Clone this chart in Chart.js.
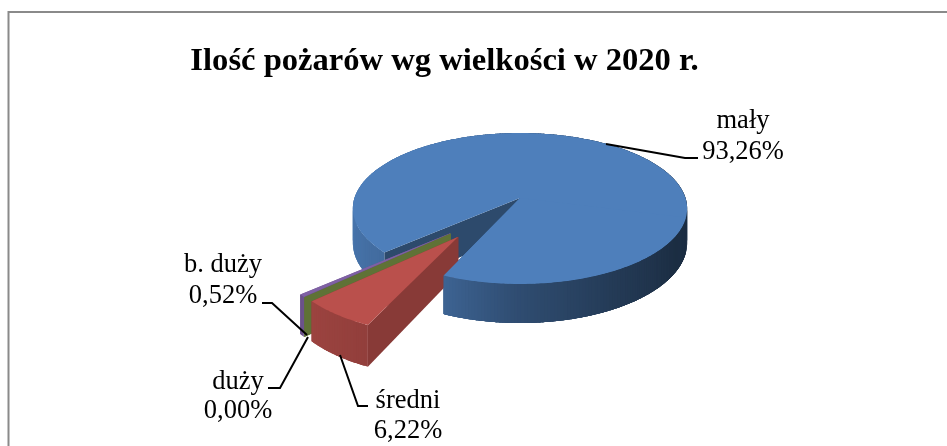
<!DOCTYPE html>
<html><head><meta charset="utf-8">
<style>html,body{margin:0;padding:0;background:#fff}canvas{display:block}</style>
<script src="https://cdn.jsdelivr.net/npm/chart.js@4"></script>
</head><body><canvas id="c" width="947" height="446"></canvas>
<script>
const categories = ['mały', 'średni', 'duży', 'b. duży'];
const values = [93.26, 6.22, 0.00, 0.52];
const chartTitle = 'Ilość pożarów wg wielkości w 2020 r.';

const topColors = ['#4E7FBB', '#BA504C', '#9BBB59', '#7F61A4'];
const cutShades = [0.58, 0.73, 0.61, 0.9];
const rimScale = [1, 0.98, 0.98, 0.98];
const rimStops = [[0,.36],[30,.36],[60,.46],[90,.6],[113,.78],[136,.84],[160,.9],[180,.92],[200,.95],[360,.36]];
const explode = 0.3;
const cam = {x:520, y:198, rx:165.5, ry:74, h:33.6, k:0.139};

const labelSpots = [
  {x:743, y1:128, y2:159, line:[[606,144],[685,158],[698,158]]},
  {x:408, y1:408, y2:438, line:[[340,355],[358,406],[368,406]]},
  {x:238, y1:389, y2:418, line:[[308,337],[280,388],[268,388]]},
  {x:223, y1:272, y2:303, line:[[307,335],[272,303],[262,303]]}
];

function project(wx, wy, z){
  const s = 1/(1-cam.k*wy);
  return [cam.x + cam.rx*wx*s, cam.y + (cam.ry*wy + cam.h*z)*s];
}
function shadeAt(deg){
  deg = ((deg%360)+360)%360;
  for(let i=1;i<rimStops.length;i++){
    const [a,sa]=rimStops[i-1],[b,sb]=rimStops[i];
    if(deg<=b) return sa+(sb-sa)*(deg-a)/(b-a);
  }
  return 1;
}
function tone(hex, f){
  const n=parseInt(hex.slice(1),16);
  return `rgb(${Math.round((n>>16&255)*f)},${Math.round((n>>8&255)*f)},${Math.round((n&255)*f)})`;
}
function poly(ctx, pts, color){
  ctx.beginPath();
  pts.forEach((p,i)=> i?ctx.lineTo(p[0],p[1]):ctx.moveTo(p[0],p[1]));
  ctx.closePath();
  ctx.fillStyle=color; ctx.fill();
}
function offsetOf(el){
  const mid=(el.startAngle+el.endAngle)/2;
  return [explode*Math.cos(mid), explode*Math.sin(mid)];
}
function paintSlice(ctx, el, i, origin, fromA, cuts){
  const a = fromA===undefined ? el.startAngle : fromA, b = el.endAngle;
  const o = offsetOf(el), cx=o[0]-origin[0], cy=o[1]-origin[1], r=rimScale[i];
  const P=(t,z)=>project(cx+r*Math.cos(t),cy+r*Math.sin(t),z);
  const C=z=>project(cx,cy,z);
  const base=el.options.backgroundColor;
  if(cuts){
    poly(ctx,[C(0),P(b,0),P(b,1),C(1)],tone(base,cutShades[i]));
    poly(ctx,[C(0),P(a,0),P(a,1),C(1)],tone(base,cutShades[i]));
  }
  const step=Math.PI/180;
  for(let t=a;t<b;t+=step){
    const e=Math.min(t+step*2.5,b), col=tone(base,shadeAt((t+step/2)*180/Math.PI));
    const pts=[];
    for(let q=t;q<e;q+=step/2) pts.push(P(q,0));
    pts.push(P(e,0),P(e,1));
    for(let q=e-step/2;q>t;q-=step/2) pts.push(P(q,1));
    pts.push(P(t,1));
    poly(ctx,pts,col);
  }
  const top=[C(0)];
  for(let t=a;t<b;t+=step) top.push(P(t,0));
  top.push(P(b,0));
  poly(ctx,top,base);
}

const pie3d = {
  id:'pie3d',
  beforeDraw(chart){
    const ctx=chart.ctx;
    ctx.save();
    ctx.strokeStyle='#8a8a8a'; ctx.lineWidth=2;
    ctx.beginPath(); ctx.moveTo(8.5,446); ctx.lineTo(8.5,12); ctx.lineTo(947,12); ctx.stroke();
    ctx.restore();
  },
  beforeDatasetDraw(chart, args){
    const ctx=chart.ctx, arcs=chart.getDatasetMeta(args.index).data;
    const origin=offsetOf(arcs[0]);
    ctx.save();
    paintSlice(ctx,arcs[0],0,origin,undefined,true);
    [3,2,1].forEach(i=>paintSlice(ctx,arcs[i],i,origin,undefined,true));
    // the near part of the large slice stands in front of the pulled-out wedge
    paintSlice(ctx,arcs[0],0,origin,arcs[0].endAngle-Math.PI*0.55,false);
    ctx.restore();
    return false;
  },
  afterDatasetsDraw(chart){
    const ctx=chart.ctx;
    ctx.save();
    ctx.strokeStyle='#000'; ctx.lineWidth=2; ctx.lineJoin='miter';
    labelSpots.forEach(s=>{
      ctx.beginPath();
      s.line.forEach((p,i)=> i?ctx.lineTo(p[0],p[1]):ctx.moveTo(p[0],p[1]));
      ctx.stroke();
    });
    ctx.fillStyle='#000'; ctx.font='26.5px "Liberation Serif"';
    ctx.textAlign='center'; ctx.textBaseline='alphabetic';
    categories.forEach((name,i)=>{
      const s=labelSpots[i];
      ctx.fillText(name,s.x,s.y1);
      ctx.fillText(values[i].toFixed(2).replace('.',',')+'%',s.x,s.y2);
    });
    ctx.restore();
  }
};

new Chart(document.getElementById('c'),{
  type:'pie',
  data:{labels:categories,datasets:[{data:values,backgroundColor:topColors,borderWidth:0}]},
  options:{
    responsive:false,animation:false,rotation:228,
    layout:{padding:{right:58}},
    plugins:{
      legend:{display:false},tooltip:{enabled:false},
      title:{display:true,text:chartTitle,color:'#000',
        font:{family:'"Liberation Serif"',size:32.6,weight:'bold',lineHeight:1.2},
        padding:{top:42,bottom:0}}
    }
  },
  plugins:[pie3d]
});
</script></body></html>
